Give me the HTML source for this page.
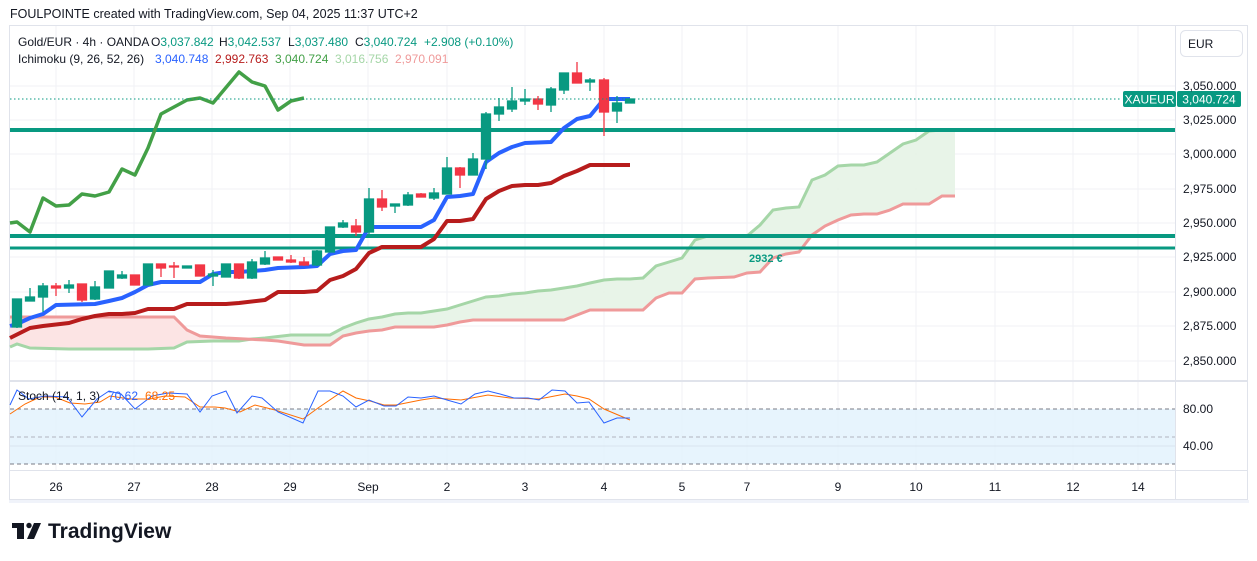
<!DOCTYPE html>
<html><head><meta charset="utf-8"><style>
body{margin:0;background:#fff;width:1257px;height:561px;overflow:hidden;font-family:"Liberation Sans",sans-serif}
svg{position:absolute;left:0;top:0}
</style></head><body>
<svg width="1257" height="561" viewBox="0 0 1257 561" font-family="Liberation Sans, sans-serif">
<rect x="0" y="0" width="1257" height="561" fill="#fff"/>
<text x="10" y="18" font-size="12.5" fill="#131722">FOULPOINTE created with TradingView.com, Sep 04, 2025 11:37 UTC+2</text>
<rect x="9.5" y="25.5" width="1238" height="474" fill="none" stroke="#e0e3eb"/>
<rect x="9" y="500" width="1240" height="3" fill="#f0f3fa"/>
<g stroke="#f0f2f6" stroke-width="1">
<line x1="10" y1="86" x2="1175" y2="86"/><line x1="10" y1="120" x2="1175" y2="120"/><line x1="10" y1="154" x2="1175" y2="154"/><line x1="10" y1="189" x2="1175" y2="189"/><line x1="10" y1="223" x2="1175" y2="223"/><line x1="10" y1="257" x2="1175" y2="257"/><line x1="10" y1="292" x2="1175" y2="292"/><line x1="10" y1="326" x2="1175" y2="326"/><line x1="10" y1="361" x2="1175" y2="361"/>
<line x1="56" y1="26" x2="56" y2="470"/><line x1="134" y1="26" x2="134" y2="470"/><line x1="212" y1="26" x2="212" y2="470"/><line x1="290" y1="26" x2="290" y2="470"/><line x1="368" y1="26" x2="368" y2="470"/><line x1="447" y1="26" x2="447" y2="470"/><line x1="525" y1="26" x2="525" y2="470"/><line x1="604" y1="26" x2="604" y2="470"/><line x1="682" y1="26" x2="682" y2="470"/><line x1="747" y1="26" x2="747" y2="470"/><line x1="838" y1="26" x2="838" y2="470"/><line x1="916" y1="26" x2="916" y2="470"/><line x1="995" y1="26" x2="995" y2="470"/><line x1="1073" y1="26" x2="1073" y2="470"/><line x1="1138" y1="26" x2="1138" y2="470"/>
</g>
<line x1="10" y1="381" x2="1248" y2="381" stroke="#e0e3eb" stroke-width="2"/>
<line x1="1175.5" y1="26" x2="1175.5" y2="500" stroke="#e0e3eb"/>
<line x1="10" y1="470.5" x2="1248" y2="470.5" stroke="#e0e3eb"/>
<defs>
<clipPath id="cl"><rect x="0" y="0" width="235" height="400"/></clipPath>
<clipPath id="cr"><rect x="235" y="0" width="1000" height="400"/></clipPath>
</defs>
<polygon clip-path="url(#cl)" fill="#fce4e4" points="10,347 17,344 30,348 69,349 95,349 122,349 148,349 174,348 187,342 213,341 239,341 239,338 226,338 200,336 187,330 174,317 10,317"/>
<polygon clip-path="url(#cr)" fill="#e6f3e6" opacity="0.9" points="226,341 239,341 252,339 265,338 291,335 330,335 343,328 356,323 369,319 382,317 395,314 408,313 421,313 434,311 447,309 460,305 473,301 486,297 499,296 512,294 525,293 538,291 551,290 564,288 577,286 590,283 604,280 617,279 630,279 643,278 656,266 669,262 682,258 695,240 708,236 747,236 760,225 773,210 786,208 799,207 812,180 825,175 838,166 851,165 864,165 877,162 890,153 903,144 916,140 929,131 942,130 955,130 955,196 942,196 929,204 903,204 890,210 877,214 864,214 851,215 838,220 825,226 812,235 799,252 786,254 773,258 760,272 747,273 734,277 708,278 695,279 682,293 669,293 656,298 643,310 590,310 577,315 564,320 486,320 473,320 460,322 447,325 434,327 395,327 382,330 369,331 356,333 343,336 330,345 304,345 278,341 265,340 226,338"/>
<polyline fill="none" stroke="#a5d6a7" stroke-width="3" points="10,347 17,344 30,348 69,349 95,349 122,349 148,349 174,348 187,342 213,341 239,341 252,339 265,338 291,335 330,335 343,328 356,323 369,319 382,317 395,314 408,313 421,313 434,311 447,309 460,305 473,301 486,297 499,296 512,294 525,293 538,291 551,290 564,288 577,286 590,283 604,280 617,279 630,279 643,278 656,266 669,262 682,258 695,240 708,236 747,236 760,225 773,210 786,208 799,207 812,180 825,175 838,166 851,165 864,165 877,162 890,153 903,144 916,140 929,131 942,130 955,130"/>
<polyline fill="none" stroke="#ef9a9a" stroke-width="3" points="10,317 174,317 187,330 200,336 226,338 265,340 278,341 304,345 330,345 343,336 356,333 369,331 382,330 395,327 434,327 447,325 460,322 473,320 486,320 564,320 577,315 590,310 643,310 656,298 669,293 682,293 695,279 708,278 734,277 747,273 760,272 773,258 786,254 799,252 812,235 825,226 838,220 851,215 864,214 877,214 890,210 903,204 929,204 942,196 955,196"/>
<line x1="10" y1="130" x2="1175" y2="130" stroke="#089981" stroke-width="4"/>
<line x1="10" y1="236" x2="1175" y2="236" stroke="#089981" stroke-width="4"/>
<line x1="10" y1="248" x2="1175" y2="248" stroke="#089981" stroke-width="3"/>
<text x="749" y="262" font-size="11" font-weight="bold" fill="#089981">2932 €</text>
<polyline fill="none" stroke="#43a047" stroke-width="3.5" stroke-linejoin="round" points="10,223 17,222 30,232 43,198 56,206 69,205 82,194 95,196 109,192 122,169 135,175 148,148 161,114 174,107 187,100 200,98 213,103 239,72 252,82 265,86 278,110 291,101 304,98"/>
<polyline fill="none" stroke="#b71c1c" stroke-width="4" stroke-linejoin="round" points="10,338 30,328 43,326 69,323 82,319 95,316 109,314 122,314 135,313 148,309 174,309 187,304 226,304 239,303 265,300 278,292 304,292 317,291 330,280 343,276 356,269 369,253 382,247 421,247 434,239 447,221 460,221 473,219 486,199 499,191 512,186 525,185 538,185 551,183 564,176 577,171 590,165 630,165"/>
<polyline fill="none" stroke="#2962ff" stroke-width="4" stroke-linejoin="round" points="10,326 17,324 30,318 43,314 56,305 95,304 109,301 122,298 135,292 148,285 161,282 200,282 213,274 226,272 239,272 265,270 278,268 304,267 317,266 330,254 343,251 356,250 369,227 421,227 434,220 447,197 460,196 473,194 486,162 499,153 512,147 525,143 551,142 564,128 577,119 590,116 604,99 630,99"/>
<g stroke-width="1.3">
<g stroke="#089981" fill="#089981">
<line x1="17" y1="299" x2="17" y2="328"/><rect x="12.5" y="299" width="9" height="28"/>
<line x1="30" y1="288" x2="30" y2="301"/><rect x="25.5" y="297" width="9" height="4"/>
<line x1="43" y1="283" x2="43" y2="312"/><rect x="38.5" y="286" width="9" height="11"/>
<line x1="69" y1="280" x2="69" y2="293"/><rect x="64.5" y="285" width="9" height="3"/>
<line x1="95" y1="281" x2="95" y2="300"/><rect x="90.5" y="287" width="9" height="12"/>
<rect x="104.5" y="271" width="9" height="17"/>
<line x1="122" y1="271" x2="122" y2="279"/><rect x="117.5" y="275" width="9" height="3"/>
<rect x="143.5" y="264" width="9" height="21"/>
<rect x="182.5" y="266" width="9" height="2"/>
<line x1="213" y1="270" x2="213" y2="286"/><rect x="208.5" y="274" width="9" height="2"/>
<rect x="221.5" y="264" width="9" height="13"/>
<line x1="252" y1="259" x2="252" y2="279"/><rect x="247.5" y="262" width="9" height="16"/>
<line x1="265" y1="251" x2="265" y2="265"/><rect x="260.5" y="258" width="9" height="6"/>
<line x1="317" y1="250" x2="317" y2="266"/><rect x="312.5" y="251" width="9" height="14"/>
<rect x="325.5" y="227" width="9" height="25"/>
<line x1="343" y1="220" x2="343" y2="228"/><rect x="338.5" y="223" width="9" height="4"/>
<line x1="369" y1="188" x2="369" y2="234"/><rect x="364.5" y="199" width="9" height="33"/>
<line x1="395" y1="204" x2="395" y2="213"/><rect x="390.5" y="204" width="9" height="2"/>
<line x1="408" y1="192" x2="408" y2="206"/><rect x="403.5" y="195" width="9" height="10"/>
<line x1="434" y1="188" x2="434" y2="200"/><rect x="429.5" y="193" width="9" height="5"/>
<line x1="447" y1="157" x2="447" y2="194"/><rect x="442.5" y="168" width="9" height="26"/>
<line x1="473" y1="153" x2="473" y2="175"/><rect x="468.5" y="159" width="9" height="16"/>
<line x1="486" y1="112" x2="486" y2="169"/><rect x="481.5" y="114" width="9" height="45"/>
<line x1="499" y1="98" x2="499" y2="121"/><rect x="494.5" y="107" width="9" height="7"/>
<line x1="512" y1="87" x2="512" y2="112"/><rect x="507.5" y="101" width="9" height="8"/>
<line x1="525" y1="89" x2="525" y2="105"/><rect x="520.5" y="99" width="9" height="2"/>
<line x1="551" y1="87" x2="551" y2="112"/><rect x="546.5" y="89" width="9" height="16"/>
<line x1="564" y1="73" x2="564" y2="94"/><rect x="559.5" y="73" width="9" height="17"/>
<line x1="590" y1="78" x2="590" y2="91"/><rect x="585.5" y="80" width="9" height="2"/>
<line x1="617" y1="96" x2="617" y2="123"/><rect x="612.5" y="103" width="9" height="8"/>
<rect x="625.5" y="99" width="9" height="4"/>
</g>
<g stroke="#f23645" fill="#f23645">
<line x1="56" y1="283" x2="56" y2="296"/><rect x="51.5" y="286" width="9" height="2"/>
<line x1="82" y1="284" x2="82" y2="302"/><rect x="77.5" y="284" width="9" height="16"/>
<rect x="130.5" y="275" width="9" height="10"/>
<line x1="161" y1="264" x2="161" y2="277"/><rect x="156.5" y="264" width="9" height="4"/>
<line x1="174" y1="262" x2="174" y2="278"/><rect x="169.5" y="266" width="9" height="1"/>
<rect x="195.5" y="265" width="9" height="11"/>
<line x1="239" y1="264" x2="239" y2="279"/><rect x="234.5" y="264" width="9" height="14"/>
<rect x="273.5" y="257" width="9" height="3"/>
<line x1="291" y1="255" x2="291" y2="263"/><rect x="286.5" y="260" width="9" height="2"/>
<line x1="304" y1="257" x2="304" y2="266"/><rect x="299.5" y="262" width="9" height="3"/>
<line x1="356" y1="219" x2="356" y2="236"/><rect x="351.5" y="226" width="9" height="6"/>
<line x1="382" y1="190" x2="382" y2="211"/><rect x="377.5" y="199" width="9" height="8"/>
<line x1="421" y1="193" x2="421" y2="197"/><rect x="416.5" y="194" width="9" height="3"/>
<line x1="460" y1="167" x2="460" y2="188"/><rect x="455.5" y="168" width="9" height="7"/>
<line x1="538" y1="96" x2="538" y2="110"/><rect x="533.5" y="99" width="9" height="5"/>
<line x1="577" y1="62" x2="577" y2="83"/><rect x="572.5" y="73" width="9" height="10"/>
<line x1="604" y1="78" x2="604" y2="136"/><rect x="599.5" y="80" width="9" height="32"/>
</g>
</g>
<line x1="10" y1="99" x2="1122" y2="99" stroke="#089981" stroke-width="1" stroke-dasharray="1.5,2.5"/>
<rect x="1123" y="91" width="53" height="16" rx="2" fill="#089981"/>
<text x="1149.5" y="103.5" font-size="12" fill="#fff" text-anchor="middle">XAUEUR</text>
<rect x="1177" y="91" width="64" height="16" rx="2" fill="#089981"/>
<text x="1209" y="103.5" font-size="12" fill="#fff" text-anchor="middle">3,040.724</text>
<g font-size="12" fill="#131722">
<text x="1183" y="90">3,050.000</text><text x="1183" y="124">3,025.000</text><text x="1183" y="158">3,000.000</text><text x="1183" y="193">2,975.000</text><text x="1183" y="227">2,950.000</text><text x="1183" y="261">2,925.000</text><text x="1183" y="296">2,900.000</text><text x="1183" y="330">2,875.000</text><text x="1183" y="365">2,850.000</text>
<text x="1183" y="413">80.00</text><text x="1183" y="450">40.00</text>
</g>
<g font-size="12" fill="#131722" text-anchor="middle">
<text x="56" y="491">26</text><text x="134" y="491">27</text><text x="212" y="491">28</text><text x="290" y="491">29</text><text x="368" y="491">Sep</text><text x="447" y="491">2</text><text x="525" y="491">3</text><text x="604" y="491">4</text><text x="682" y="491">5</text><text x="747" y="491">7</text><text x="838" y="491">9</text><text x="916" y="491">10</text><text x="995" y="491">11</text><text x="1073" y="491">12</text><text x="1138" y="491">14</text>
</g>
<rect x="1180.5" y="30.5" width="62" height="26" rx="5" fill="#fff" stroke="#e0e3eb"/>
<text x="1188" y="48" font-size="12" fill="#131722">EUR</text>
<rect x="10" y="409" width="1165" height="55" fill="#e3f2fd" opacity="0.85"/>
<line x1="10" y1="446" x2="1175" y2="446" stroke="#d8e3ee"/>
<line x1="10" y1="409" x2="1175" y2="409" stroke="#787b86" stroke-dasharray="4,3"/>
<line x1="10" y1="437" x2="1175" y2="437" stroke="#b2b5be" stroke-dasharray="4,3"/>
<line x1="10" y1="464" x2="1175" y2="464" stroke="#787b86" stroke-dasharray="4,3"/>
<polyline fill="none" stroke="#ff6d00" stroke-width="1" points="10,414 25,404 40,397 55,397 70,403 85,404 100,402 110,396 130,399 150,399 165,396 185,397 200,407 215,407 225,408 240,412 255,405 275,410 303,419 318,408 343,391 356,398 370,401 384,405 396,405 421,400 434,398 461,400 488,395 510,398 539,399 565,394 577,396 589,399 604,409 630,420"/>
<polyline fill="none" stroke="#2962ff" stroke-width="1" points="10,405 17,390 29,399 45,396 67,397 82,417 97,399 109,391 121,394 135,409 152,396 168,393 187,394 200,412 212,396 226,391 237,413 252,396 262,398 278,412 303,423 318,391 330,391 343,396 356,407 369,400 384,406 396,406 408,397 421,398 434,396 447,400 461,404 475,394 488,391 500,394 514,398 528,398 539,400 552,390 565,391 577,403 589,402 604,423 617,418 630,418"/>
<text x="18" y="400" font-size="12" fill="#131722">Stoch (14, 1, 3)</text>
<text x="108" y="400" font-size="12" fill="#2962ff">70.62</text>
<text x="145" y="400" font-size="12" fill="#ff6d00">68.25</text>
<g font-size="12">
<text y="46"><tspan x="18" fill="#131722">Gold/EUR · 4h · OANDA</tspan><tspan x="151" fill="#131722">O</tspan><tspan fill="#089981">3,037.842</tspan><tspan x="219" fill="#131722">H</tspan><tspan fill="#089981">3,042.537</tspan><tspan x="288" fill="#131722">L</tspan><tspan fill="#089981">3,037.480</tspan><tspan x="355" fill="#131722">C</tspan><tspan fill="#089981">3,040.724</tspan><tspan x="424" fill="#089981">+2.908 (+0.10%)</tspan></text>
<text y="63"><tspan x="18" fill="#131722">Ichimoku (9, 26, 52, 26)</tspan><tspan fill="#2962ff" x="155">3,040.748</tspan><tspan fill="#b71c1c" x="215">2,992.763</tspan><tspan fill="#43a047" x="275">3,040.724</tspan><tspan fill="#a5d6a7" x="335">3,016.756</tspan><tspan fill="#ef9a9a" x="395">2,970.091</tspan></text>
</g>
<g fill="#131722">
<rect x="12" y="523" width="12" height="5"/><rect x="17" y="523" width="7" height="16"/>
<circle cx="29" cy="525.5" r="2.7"/>
<polygon points="34,523 41,523 34,539 27,539"/>
</g>
<text x="48" y="538" font-size="21" font-weight="bold" fill="#131722">TradingView</text>
</svg>
</body></html>
